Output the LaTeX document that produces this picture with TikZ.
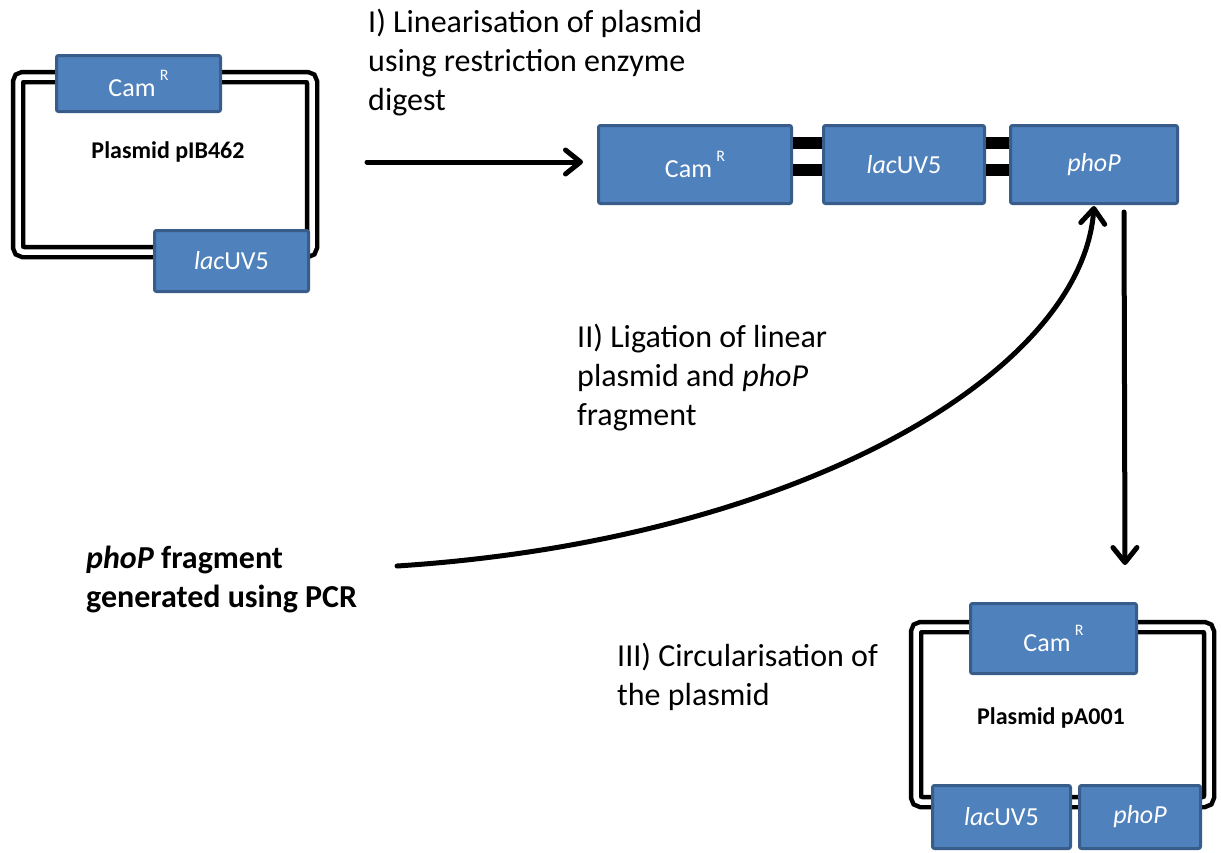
\documentclass[tikz,border=0pt]{standalone}
\usepackage{fontspec}
\setmainfont{Carlito}
\usepackage{tikz}
\usetikzlibrary{arrows.meta, positioning}
\definecolor{genefill}{HTML}{4F81BD}
\definecolor{genedraw}{HTML}{385D8A}

\tikzset{
  gene/.style={draw=genedraw, fill=genefill, line width=3pt, rounded corners=2pt,
    text=white, inner sep=0pt, font=\fontsize{26}{31}\selectfont},
  ring/.style={draw, line width=4.5pt, double=white, double distance=5.5pt, rounded corners=5pt},
  bar/.style={line width=12pt},
  flowarrow/.style={line width=5pt, line cap=round,
    -{Straight Barb[length=15pt, width=24pt, line cap=round, line join=round]}},
  caption/.style={align=left, inner sep=0pt, anchor=base west, font=\fontsize{32}{39}\selectfont},
  plasname/.style={font=\fontsize{24}{29}\selectfont\bfseries}
}
\newcommand{\camr}{Cam\raisebox{0.62em}{\,\fontsize{16}{16}\selectfont R}}

\begin{document}
\begin{tikzpicture}[x=1pt, y=-1pt]
  \useasboundingbox (0,0) rectangle (1221,852);
  % Plasmid pIB462:
  \draw[ring] (18,77) rectangle (312,252);
  \node[gene, minimum width=164pt, minimum height=56pt] (cam1) at (138.5,83.5) {\camr};
  \node[gene, minimum width=154pt, minimum height=61pt] (lac1) at (231.5,261) {\textit{lac}UV5};
  \node[plasname] (pib) at (168,152) {Plasmid pIB462};

  % Linear plasmid:
  \node[gene, minimum width=193pt, minimum height=78pt] (cam2) at (695,164.5) {\camr};
  \node[gene, minimum width=161pt, minimum height=78pt] (lac2) at (904,164.5) {\textit{lac}UV5};
  \node[gene, minimum width=167pt, minimum height=78pt] (pho2) at (1094,164.5) {\textit{phoP}};
  \draw[bar] ([yshift=21.5pt]cam2.east) -- ([yshift=21.5pt]lac2.west);
  \draw[bar] ([yshift=-5pt]cam2.east) -- ([yshift=-5pt]lac2.west);
  \draw[bar] ([yshift=21.5pt]lac2.east) -- ([yshift=21.5pt]pho2.west);
  \draw[bar] ([yshift=-5pt]lac2.east) -- ([yshift=-5pt]pho2.west);

  % Plasmid pA001:
  \draw[ring] (916,627) rectangle (1209,802);
  \node[gene, minimum width=166pt, minimum height=70pt] (cam3) at (1053.5,638.5) {\camr};
  \node[gene, minimum width=138pt, minimum height=63pt] (lac3) at (1001.5,817) {\textit{lac}UV5};
  \node[gene, minimum width=121pt, minimum height=63pt] (pho3) at (1140,817) {\textit{phoP}};
  \node[plasname] (pa) at (1051,718) {Plasmid pA001};

  % Texts (anchored at the last line):
  \node[caption] (step1) at (368,110) {I) Linearisation of plasmid\\using restriction enzyme\\digest};
  \node[caption] (step2) at (577,425) {II) Ligation of linear\\plasmid and \textit{phoP}\\fragment};
  \node[caption] (step3) at (617,705) {III) Circularisation of\\the plasmid};
  \node[caption, font=\fontsize{32}{39}\selectfont\bfseries] (pcr) at (86,607) {\textit{phoP} fragment\\generated using PCR};

  % Arrows:
  \coordinate (a1s) at (367,162);
  \coordinate (a1e) at ([xshift=-14pt, yshift=2.5pt]cam2.west);
  \draw[flowarrow] (a1s) -- (a1e);
  \coordinate (a2s) at (397,566);
  \draw[flowarrow] (a2s) .. controls (800,540) and (1082,372) .. ([yshift=-1pt]pho2.south);
  \coordinate (a3s) at ([xshift=30pt, yshift=-7pt]pho2.south);
  \coordinate (a3e) at (1125,565);
  \draw[flowarrow] (a3s) -- (a3e);
\end{tikzpicture}
\end{document}
